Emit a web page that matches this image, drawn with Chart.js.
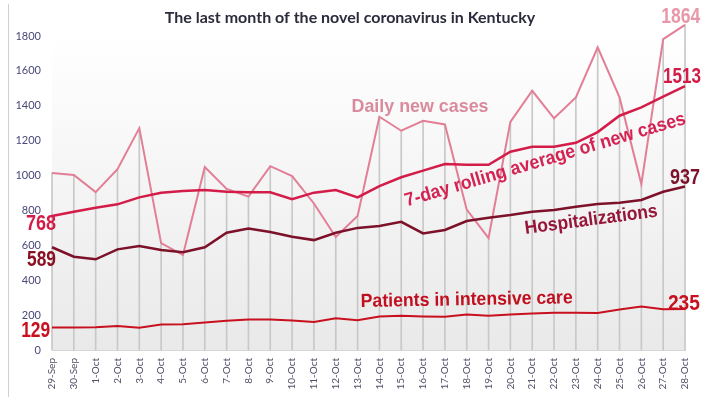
<!DOCTYPE html>
<html>
<head>
<meta charset="utf-8">
<script src="https://cdn.jsdelivr.net/npm/chart.js@4.4.0/dist/chart.umd.min.js"></script>
<style>
  html, body { margin: 0; padding: 0; background: #fff; }
  #wrap { width: 705px; height: 397px; position: relative; }
</style>
</head>
<body>
<div id="wrap"><canvas id="kyChart"></canvas></div>
<script>
// dates along the bottom
const days = ['29-Sep', '30-Sep', '1-Oct', '2-Oct', '3-Oct', '4-Oct', '5-Oct', '6-Oct', '7-Oct', '8-Oct',
  '9-Oct', '10-Oct', '11-Oct', '12-Oct', '13-Oct', '14-Oct', '15-Oct', '16-Oct', '17-Oct', '18-Oct',
  '19-Oct', '20-Oct', '21-Oct', '22-Oct', '23-Oct', '24-Oct', '25-Oct', '26-Oct', '27-Oct', '28-Oct'];

const dailyCases = [1015, 1003, 905, 1037, 1272, 613, 544, 1049, 923, 879,
  1054, 997, 840, 648, 768, 1337, 1257, 1314, 1293, 805,
  642, 1308, 1486, 1328, 1448, 1735, 1448, 951, 1782, 1864];

const rollingAvg = [768, 793, 816, 835, 875, 901, 911, 917, 907, 904,
  904, 865, 902, 917, 875, 940, 990, 1028, 1066, 1062,
  1062, 1137, 1165, 1165, 1188, 1249, 1343, 1391, 1452, 1513];

const hospitalized = [589, 535, 520, 577, 596, 573, 560, 589, 672, 697,
  676, 649, 630, 672, 700, 711, 735, 668, 688, 739,
  758, 774, 793, 802, 821, 837, 844, 860, 907, 937];

const intensiveCare = [129, 129, 131, 137, 127, 146, 148, 158, 167, 175,
  175, 169, 160, 182, 171, 192, 196, 192, 190, 203,
  196, 203, 209, 213, 213, 212, 232, 250, 234, 235];

const yTicks = [0, 200, 400, 600, 800, 1000, 1200, 1400, 1600, 1800];

const title = 'The last month of the novel coronavirus in Kentucky';

// colours
const pinkLight = '#e27f96';
const crimson = '#d41c48';
const maroon = '#7c1129';
const red = '#c8101f';

const narrow = '"Liberation Sans Narrow", "Liberation Sans", Arial, sans-serif';

// text written on the chart: i = category position, v = value position
const notes = [
  { text: 'Daily new cases', i: 16.86, v: 1392, angle: 0, size: 19, width: 137, color: '#d98b9d' },
  { text: '7-day rolling average of new cases', i: 22.6, v: 1089, angle: -16.5, size: 19, width: 292, color: '#d42352' },
  { text: 'Hospitalizations', i: 24.7, v: 745, angle: -7.5, size: 19, width: 134, color: '#96163a' },
  { text: 'Patients in intensive care', i: 19.0, v: 287, angle: -1, size: 19, width: 212, color: '#c0101f' },
  { text: String(rollingAvg[0]), i: -0.5, v: 722, angle: 0, size: 22, width: 30, color: crimson },
  { text: String(hospitalized[0]), i: -0.48, v: 516, angle: 0, size: 22, width: 29, color: '#8b1024' },
  { text: String(intensiveCare[0]), i: -0.75, v: 109, angle: 0, size: 22, width: 29, color: red },
  { text: String(dailyCases[29]), i: 28.8, v: 1908, angle: 0, size: 22, width: 39, color: '#e897a9' },
  { text: String(rollingAvg[29]), i: 28.86, v: 1564, angle: 0, size: 22, width: 38, color: crimson },
  { text: String(hospitalized[29]), i: 29.0, v: 986, angle: 0, size: 22, width: 30, color: maroon },
  { text: String(intensiveCare[29]), i: 28.95, v: 264, angle: 0, size: 22, width: 32, color: red }
];

const backdrop = {
  id: 'backdrop',
  beforeDraw: function(chart) {
    const ctx = chart.ctx;
    const a = chart.chartArea;
    ctx.save();
    const grad = ctx.createLinearGradient(0, a.top, 0, a.bottom);
    grad.addColorStop(0, '#ffffff');
    grad.addColorStop(1, '#e9e9e9');
    ctx.fillStyle = grad;
    ctx.fillRect(a.left, a.top, a.right - a.left, a.bottom - a.top);
    // frame line on the left edge
    ctx.strokeStyle = '#d0d0d0';
    ctx.lineWidth = 1;
    ctx.beginPath();
    ctx.moveTo(8.5, 4);
    ctx.lineTo(8.5, chart.height);
    ctx.stroke();
    ctx.restore();
  },
  afterDraw: function(chart) {
    const ctx = chart.ctx;
    const xs = chart.scales.x;
    const ys = chart.scales.y;
    ctx.save();
    ctx.textAlign = 'center';
    ctx.textBaseline = 'middle';
    ctx.fillStyle = '#2b2b3c';
    ctx.font = 'bold 16px Lato, "Open Sans", sans-serif';
    ctx.fillText(title, 350, 18);

    notes.forEach(function(n) {
      ctx.save();
      ctx.translate(xs.getPixelForValue(n.i), ys.getPixelForValue(n.v));
      ctx.rotate(n.angle * Math.PI / 180);
      ctx.font = 'bold ' + n.size + 'px ' + narrow;
      const w = ctx.measureText(n.text).width;
      ctx.scale(n.width / w, 1);
      ctx.fillStyle = n.color;
      ctx.fillText(n.text, 0, 0);
      ctx.restore();
    });
    ctx.restore();
  }
};

const ctx = document.getElementById('kyChart').getContext('2d');
new Chart(ctx, {
  type: 'line',
  data: {
    labels: days,
    datasets: [
      {
        type: 'bar',
        data: dailyCases,
        backgroundColor: '#c8c8c8',
        barThickness: 1,
        order: 10,
        clip: false
      },
      { data: dailyCases, borderColor: pinkLight, borderWidth: 2, order: 4, clip: false },
      { data: rollingAvg, borderColor: crimson, borderWidth: 2.5, order: 3, clip: false },
      { data: hospitalized, borderColor: maroon, borderWidth: 2.5, order: 2, clip: false },
      { data: intensiveCare, borderColor: red, borderWidth: 2, order: 1, clip: false }
    ]
  },
  options: {
    responsive: true,
    maintainAspectRatio: false,
    animation: false,
    elements: {
      point: { radius: 0 },
      line: { tension: 0 }
    },
    layout: { padding: { top: 36, left: 16, right: 15, bottom: 0 } },
    plugins: {
      legend: { display: false },
      tooltip: { enabled: false }
    },
    scales: {
      x: {
        offset: false,
        grid: { display: false, drawTicks: false },
        border: { display: true, color: '#d6d6d6' },
        afterFit: function(s) { s.height = 47; },
        ticks: {
          autoSkip: false,
          minRotation: 90,
          maxRotation: 90,
          padding: 8,
          color: '#505068',
          font: { size: 10, family: 'Lato, "Open Sans", sans-serif' }
        }
      },
      y: {
        min: 0,
        max: 1800,
        grid: { display: false, drawTicks: false },
        border: { display: false },
        afterFit: function(s) { s.width = 36; },
        afterBuildTicks: function(s) {
          s.ticks = yTicks.map(function(v) { return { value: v }; });
        },
        ticks: {
          padding: 11,
          color: '#48487a',
          font: { size: 11, family: 'Lato, "Open Sans", sans-serif' },
          callback: function(v) { return String(v); }
        }
      }
    }
  },
  plugins: [backdrop]
});
</script>
</body>
</html>
